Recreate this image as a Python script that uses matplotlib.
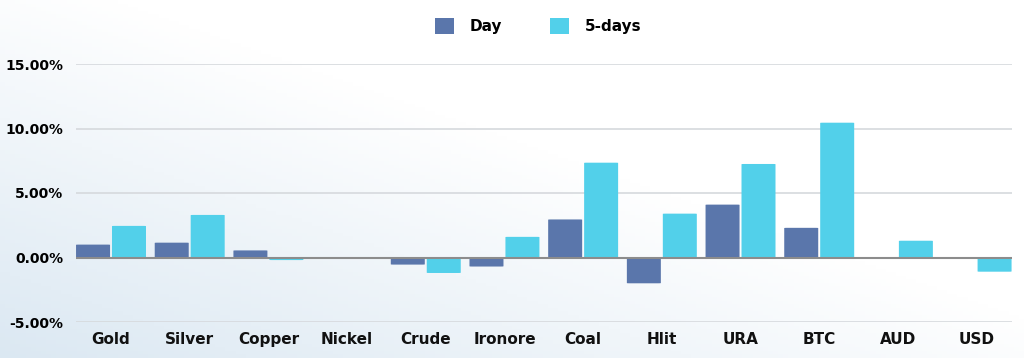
import matplotlib.pyplot as plt
import numpy as np
from matplotlib.patches import FancyBboxPatch
from matplotlib.ticker import FuncFormatter

categories = ["Gold", "Silver", "Copper", "Nickel", "Crude", "Ironore",
              "Coal", "Hlit", "URA", "BTC", "AUD", "USD"]
day_values = [1.0, 1.15, 0.55, 0.0, -0.55, -0.7, 2.95, -2.0, 4.1, 2.3, 0.02, -0.1]
five_day_values = [2.45, 3.3, -0.2, 0.0, -1.2, 1.6, 7.35, 3.4, 7.25, 10.45, 1.3, -1.1]
series_names = ["Day", "5-days"]

DAY_COLOR = "#5a76ab"
FIVE_COLOR = "#52d0ea"

plt.rcParams["font.family"] = ["DejaVu Sans"]

figure = plt.figure(figsize=(10.24, 3.58), dpi=100)

# soft blue-to-white background
bg = figure.add_axes([0, 0, 1, 1], zorder=-10)
xx, yy = np.meshgrid(np.linspace(0, 1, 200), np.linspace(0, 1, 100))
weight = np.clip(1 - (xx * 0.9 + yy * 0.9), 0, 1)
top = np.array([1.0, 1.0, 1.0])
bottom = np.array([0.86, 0.91, 0.95])
img = top[None, None, :] * (1 - weight[..., None]) + bottom[None, None, :] * weight[..., None]
bg.imshow(img, origin="lower", aspect="auto", extent=[0, 1, 0, 1])
bg.axis("off")

axis = figure.add_axes([76 / 1024, 1 - 322 / 358, (1012 - 76) / 1024, (322 - 64) / 358])
axis.patch.set_alpha(0)

x = np.arange(len(categories))
bar_width = 0.432
gap = 0.025

for offset, values, color in [
    (-(bar_width + gap) / 2, day_values, DAY_COLOR),
    ((bar_width + gap) / 2, five_day_values, FIVE_COLOR),
]:
    for xi, value in zip(x, values):
        if value == 0:
            continue
        patch = FancyBboxPatch(
            (xi + offset - bar_width / 2, min(0, value)),
            bar_width,
            abs(value),
            boxstyle="round,pad=0,rounding_size=0.03",
            mutation_aspect=0.6,
            linewidth=0,
            facecolor=color,
            zorder=3,
        )
        axis.add_patch(patch)

axis.set_xlim(-0.445, 11.45)
axis.set_ylim(-5, 15)
axis.set_yticks([-5, 0, 5, 10, 15])
axis.yaxis.set_major_formatter(FuncFormatter(lambda v, _: f"{v:.2f}%"))
axis.grid(axis="y", color="#d6d9dd", linewidth=1.2, zorder=0)
axis.axhline(0, color="#8c8c8c", linewidth=1.5, zorder=4)
axis.set_xticks([])
for spine in axis.spines.values():
    spine.set_visible(False)
axis.tick_params(axis="y", length=0, pad=9, labelsize=10)
for label in axis.get_yticklabels():
    label.set_fontweight("bold")

for xi, name in zip(x, categories):
    axis.text(xi, -6.35, name, ha="center", va="center",
              fontsize=11, fontweight="bold", color="#111111")

# legend
handles = [plt.Rectangle((0, 0), 1, 1, facecolor=c, linewidth=0)
           for c in (DAY_COLOR, FIVE_COLOR)]
legend = figure.legend(
    handles, series_names,
    loc="center", bbox_to_anchor=(0.5253, 0.928),
    ncol=2, frameon=False, handlelength=1.25, handleheight=1.25,
    handletextpad=1.05, columnspacing=3.1,
    prop={"weight": "bold", "size": 11},
)

figure.savefig("out.png", dpi=100)
plt.close(figure)
